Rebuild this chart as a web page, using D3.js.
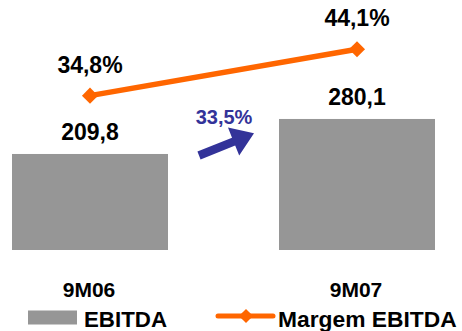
<!DOCTYPE html>
<html><head><meta charset="utf-8">
<script src="https://cdn.jsdelivr.net/npm/d3@7"></script>
<style>html,body{margin:0;padding:0;background:#fff;}svg{display:block;}</style>
</head><body>
<script>
const categories = ["9M06", "9M07"];
const ebitda = [209.8, 280.1];
const ebitdaLabels = ["209,8", "280,1"];
const margem = [34.8, 44.1];
const margemLabels = ["34,8%", "44,1%"];
const growthLabel = "33,5%";
const legendLabels = ["EBITDA", "Margem EBITDA"];

const W = 462, H = 331;
const font = "'Liberation Sans', Arial, sans-serif";
const svg = d3.select("body").append("svg").attr("width", W).attr("height", H);

const xb = d3.scaleBand().domain(categories).range([12, 435]).paddingInner(0.4157).paddingOuter(0);
const yBar = d3.scaleLinear().domain([17, 519]).range([250, 0]);
const yLine = d3.scaleLinear().domain([0, 54]).range([269, 0]);
const cx = c => xb(c) + xb.bandwidth() / 2;

// bars
svg.selectAll("rect.bar").data(ebitda).enter().append("rect")
  .attr("x", (d, i) => xb(categories[i]))
  .attr("y", d => yBar(d))
  .attr("width", xb.bandwidth())
  .attr("height", d => yBar.range()[0] - yBar(d))
  .attr("fill", "#969696");

svg.selectAll("text.bl").data(ebitda).enter().append("text")
  .attr("x", (d, i) => cx(categories[i]))
  .attr("y", d => yBar(d) - 14)
  .attr("text-anchor", "middle")
  .attr("font-family", font).attr("font-weight", "bold").attr("font-size", 23)
  .attr("fill", "#000")
  .text((d, i) => ebitdaLabels[i]);

// line
const line = d3.line().x((d, i) => cx(categories[i])).y(d => yLine(d));
svg.append("path").datum(margem).attr("d", line)
  .attr("fill", "none").attr("stroke", "#FF6600").attr("stroke-width", 5.5);
const diamond = d3.symbol().type(d3.symbolDiamond2).size(165);
svg.selectAll("path.mk").data(margem).enter().append("path")
  .attr("d", diamond)
  .attr("transform", (d, i) => `translate(${cx(categories[i])},${yLine(d)})`)
  .attr("fill", "#FF6600");

svg.selectAll("text.ml").data(margem).enter().append("text")
  .attr("x", (d, i) => cx(categories[i]))
  .attr("y", d => yLine(d) - 23)
  .attr("text-anchor", "middle")
  .attr("font-family", font).attr("font-weight", "bold").attr("font-size", 23)
  .attr("fill", "#000")
  .text((d, i) => margemLabels[i]);

// growth arrow annotation
const gap0 = xb(categories[0]) + xb.bandwidth();
const gap1 = xb(categories[1]);
const mid = (gap0 + gap1) / 2;
const sx = mid - 24.5, sy = 155.5, tx = mid + 30.5, ty = 133.3;
const ang = Math.atan2(ty - sy, tx - sx);
const L = Math.hypot(tx - sx, ty - sy);
const headL = 22, headW = 15, shaftW = 4.2;
const pts = [[0, -shaftW], [L - headL, -shaftW], [L - headL, -headW], [L, 0], [L - headL, headW], [L - headL, shaftW], [0, shaftW]];
svg.append("path")
  .attr("d", "M" + pts.map(p => p.join(",")).join("L") + "Z")
  .attr("transform", `translate(${sx},${sy}) rotate(${ang * 180 / Math.PI})`)
  .attr("fill", "#333399");
svg.append("text").attr("x", mid + 0.5).attr("y", 123.5)
  .attr("text-anchor", "middle")
  .attr("font-family", font).attr("font-weight", "bold").attr("font-size", 20)
  .attr("fill", "#333399").text(growthLabel);

// category labels
svg.selectAll("text.cat").data(categories).enter().append("text")
  .attr("x", d => cx(d) - 1)
  .attr("y", 296.5)
  .attr("text-anchor", "middle")
  .attr("font-family", font).attr("font-weight", "bold").attr("font-size", 21)
  .attr("fill", "#000").text(d => d);

// legend
const lg = svg.append("g");
lg.append("rect").attr("x", 28).attr("y", 310.5).attr("width", 49).attr("height", 14).attr("fill", "#969696");
lg.append("text").attr("x", 84).attr("y", 326.5)
  .attr("font-family", font).attr("font-weight", "bold").attr("font-size", 22.3)
  .attr("fill", "#000").text(legendLabels[0]);
lg.append("line").attr("x1", 218).attr("x2", 273).attr("y1", 316).attr("y2", 316)
  .attr("stroke", "#FF6600").attr("stroke-width", 5).attr("stroke-linecap", "round");
lg.append("path").attr("d", d3.symbol().type(d3.symbolDiamond2).size(128))
  .attr("transform", "translate(246,316)").attr("fill", "#FF6600");
lg.append("text").attr("x", 278).attr("y", 326.5)
  .attr("font-family", font).attr("font-weight", "bold").attr("font-size", 22.8)
  .attr("fill", "#000").text(legendLabels[1]);
</script>
</body></html>
